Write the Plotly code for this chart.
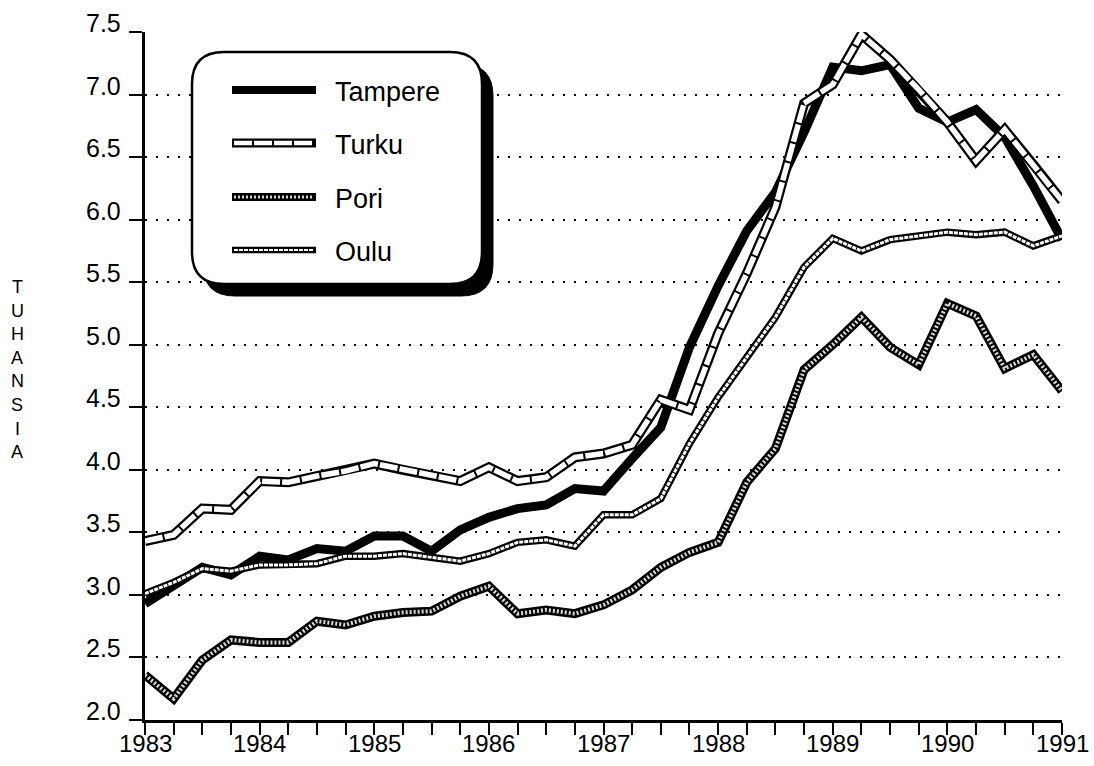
import plotly.graph_objects as go

# ---------------- data (quarterly, thousands) ----------------
quarters = [1983 + q / 4 for q in range(33)]
years = [1983, 1984, 1985, 1986, 1987, 1988, 1989, 1990, 1991]
y_tick_values = [2.0, 2.5, 3.0, 3.5, 4.0, 4.5, 5.0, 5.5, 6.0, 6.5, 7.0, 7.5]
y_title_letters = ["T", "U", "H", "A", "N", "S", "I", "A"]
series_names = ["Tampere", "Turku", "Pori", "Oulu"]

tampere = [2.93, 3.07, 3.22, 3.16, 3.31, 3.28, 3.37, 3.35, 3.47, 3.47, 3.35,
           3.52, 3.62, 3.69, 3.72, 3.85, 3.83, 4.09, 4.34, 4.98, 5.47, 5.91,
           6.22, 6.70, 7.22, 7.19, 7.24, 6.89, 6.78, 6.88, 6.66, 6.27, 5.84]
turku = [3.43, 3.48, 3.69, 3.68, 3.91, 3.90, 3.95, 3.99, 4.05, 4.00, 3.95,
         3.91, 4.02, 3.91, 3.94, 4.10, 4.13, 4.20, 4.56, 4.48, 5.09, 5.57,
         6.10, 6.93, 7.08, 7.48, 7.28, 7.04, 6.78, 6.47, 6.72, 6.44, 6.15]
pori = [2.36, 2.17, 2.48, 2.64, 2.62, 2.62, 2.79, 2.76, 2.83, 2.86, 2.87,
        2.99, 3.07, 2.85, 2.88, 2.85, 2.92, 3.04, 3.22, 3.34, 3.42, 3.90,
        4.17, 4.80, 5.00, 5.22, 4.98, 4.84, 5.33, 5.23, 4.81, 4.92, 4.63]
oulu = [3.01, 3.10, 3.21, 3.19, 3.24, 3.24, 3.25, 3.31, 3.31, 3.33, 3.30,
        3.27, 3.33, 3.42, 3.44, 3.39, 3.64, 3.64, 3.77, 4.21, 4.58, 4.90,
        5.22, 5.62, 5.85, 5.75, 5.84, 5.87, 5.90, 5.88, 5.90, 5.79, 5.87]

# ---------------- styles ----------------
# (outer colour, outer width, inner colour, inner width, inner dash)
styles = {
    "Tampere": ("black", 9, None, 0, None),
    "Turku": ("black", 10, "white", 5.5, "18px,2px"),
    "Pori": ("black", 9, "#d8d8d8", 4, "2px,2px"),
    "Oulu": ("black", 7.5, "white", 3, "4px,1px"),
}
data_by_name = {"Tampere": tampere, "Turku": turku, "Pori": pori, "Oulu": oulu}
draw_order = ["Pori", "Tampere", "Oulu", "Turku"]

W, H = 1094, 766
ML, MR, MT, MB = 145, 32, 32, 46
PW, PH = W - ML - MR, H - MT - MB
FONT = "Liberation Sans, Arial, Helvetica"


def px(x):
    return (x - ML) / PW


def py(y):
    return (H - MB - y) / PH


fig = go.Figure()
for name in draw_order:
    oc, ow, ic, iw, idash = styles[name]
    fig.add_trace(go.Scatter(x=quarters, y=data_by_name[name], mode="lines",
                             line=dict(color=oc, width=ow), name=name,
                             showlegend=False, hoverinfo="skip"))
    if ic:
        fig.add_trace(go.Scatter(x=quarters, y=data_by_name[name], mode="lines",
                                 line=dict(color=ic, width=iw, dash=idash),
                                 name=name, showlegend=False, hoverinfo="skip"))

# ---------------- legend box (rounded, with shadow) ----------------
def rounded_path(x0, y0, x1, y1, r):
    X0, X1 = px(x0), px(x1)
    Y0, Y1 = py(y0), py(y1)  # Y0 is top
    rx, ry = r / PW, r / PH
    return (f"M {X0 + rx},{Y0} L {X1 - rx},{Y0} Q {X1},{Y0} {X1},{Y0 - ry} "
            f"L {X1},{Y1 + ry} Q {X1},{Y1} {X1 - rx},{Y1} "
            f"L {X0 + rx},{Y1} Q {X0},{Y1} {X0},{Y1 + ry} "
            f"L {X0},{Y0 - ry} Q {X0},{Y0} {X0 + rx},{Y0} Z")


box = (192, 52, 482, 284)
shapes = [
    dict(type="path", xref="paper", yref="paper",
         path=rounded_path(box[0] + 11, box[1] + 12, box[2] + 11, box[3] + 12, 32),
         fillcolor="black", line=dict(color="black", width=1), layer="above"),
    dict(type="path", xref="paper", yref="paper",
         path=rounded_path(*box, 32),
         fillcolor="white", line=dict(color="black", width=2.5), layer="above"),
]

annotations = []
legend_y = [90, 143, 197, 250]
for name, ly in zip(series_names, legend_y):
    oc, ow, ic, iw, idash = styles[name]
    shapes.append(dict(type="line", xref="paper", yref="paper",
                       x0=px(232), x1=px(316), y0=py(ly), y1=py(ly),
                       line=dict(color=oc, width=ow - 1), layer="above"))
    if ic:
        shapes.append(dict(type="line", xref="paper", yref="paper",
                           x0=px(234), x1=px(314), y0=py(ly), y1=py(ly),
                           line=dict(color=ic, width=max(iw - 1, 2), dash=idash),
                           layer="above"))
    annotations.append(dict(xref="paper", yref="paper", x=px(333), y=py(ly + 2),
                            text=name, showarrow=False, xanchor="left",
                            yanchor="middle",
                            font=dict(family=FONT, size=27, color="black")))

# y tick labels (sit slightly above their tick, as in the original)
for v in y_tick_values:
    annotations.append(dict(xref="paper", yref="y", x=px(123), y=v,
                            text=f"{v:.1f}", showarrow=False, xanchor="right",
                            yanchor="middle", yshift=9,
                            font=dict(family=FONT, size=25, color="black")))

# x tick labels (years)
for yr in years:
    annotations.append(dict(xref="x", yref="paper", x=yr, y=0,
                            text=str(yr), showarrow=False, xanchor="center",
                            yanchor="middle", yshift=-23,
                            font=dict(family=FONT, size=24, color="black")))

# vertical axis title, stacked letters
for k, ch in enumerate(y_title_letters):
    annotations.append(dict(xref="paper", yref="paper", x=px(17),
                            y=py(287 + k * 23.6), text=ch, showarrow=False,
                            xanchor="center", yanchor="middle",
                            font=dict(family=FONT, size=18, color="black")))

fig.update_layout(
    width=W, height=H,
    margin=dict(l=ML, r=MR, t=MT, b=MB, autoexpand=False),
    paper_bgcolor="white", plot_bgcolor="white",
    shapes=shapes, annotations=annotations, showlegend=False,
    xaxis=dict(range=[1983, 1991], tickmode="array", tickvals=quarters,
               showticklabels=False, ticks="outside", ticklen=12, tickwidth=2,
               tickcolor="black", showline=True, linecolor="black", linewidth=2.5,
               showgrid=False, zeroline=False, automargin=False),
    yaxis=dict(range=[2.0, 7.5], tickmode="array", tickvals=y_tick_values,
               showticklabels=False, ticks="outside", ticklen=13, tickwidth=2,
               tickcolor="black", showline=True, linecolor="black", linewidth=2.5,
               showgrid=True, gridcolor="black", gridwidth=1.6, griddash="2px,9px",
               zeroline=False, automargin=False),
)

fig.write_html(
    "out.html",
    config={"displayModeBar": False},
    post_script="document.body.style.margin='0';document.body.style.overflow='hidden';",
)
